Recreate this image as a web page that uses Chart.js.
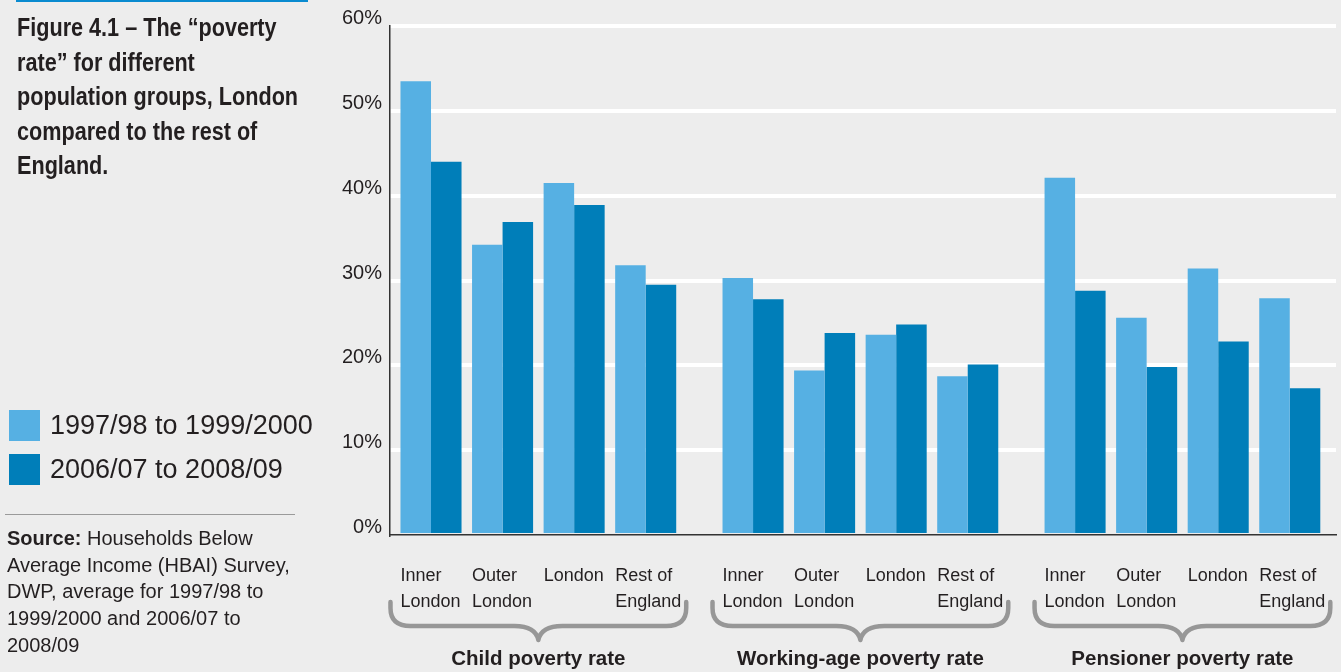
<!DOCTYPE html>
<html>
<head>
<meta charset="utf-8">
<script src="https://cdn.jsdelivr.net/npm/chart.js@4.4.1/dist/chart.umd.min.js"></script>
<style>
  html, body { margin: 0; padding: 0; background: #ededed; }
  body { width: 1341px; height: 672px; position: relative; overflow: hidden; }
  #wrap { position: absolute; left: 0; top: 0; width: 1341px; height: 672px; }
  #side { position: absolute; left: 0; top: 0; width: 320px; height: 672px; color: #231f20;
          font-family: 'Liberation Sans', Arial, sans-serif; }
  #topline { position: absolute; left: 16px; top: 0; width: 292px; height: 2px; background: #0a8bd0; }
  #title { position: absolute; left: 17px; top: 10px; font-weight: bold; font-size: 25px; line-height: 34.5px;
           white-space: nowrap; transform: scaleX(0.865); transform-origin: 0 0; }
  .key { position: absolute; left: 9px; height: 31px; line-height: 31px; font-size: 27px; white-space: nowrap; }
  .key span { display: inline-block; width: 31px; height: 31px; vertical-align: top; margin-right: 10px; }
  #rule { position: absolute; left: 5px; top: 514px; width: 290px; height: 0; border-top: 1.5px solid #9a9a9a; }
  #source { position: absolute; left: 7px; top: 525px; font-size: 20px; line-height: 26.7px; white-space: nowrap; }
</style>
</head>
<body>
<div id="wrap"><canvas id="chart"></canvas></div>
<div id="side">
  <div id="topline"></div>
  <div id="title">Figure 4.1 – The “poverty<br>rate” for different<br>population groups, London<br>compared to the rest of<br>England.</div>
  <div id="keys"></div>
  <div id="rule"></div>
  <div id="source"><b>Source:</b> Households Below<br>Average Income (HBAI) Survey,<br>DWP, average for 1997/98 to<br>1999/2000 and 2006/07 to<br>2008/09</div>
</div>
<script>
// poverty rate (%) by area, three population groups
const groups = ['Child poverty rate', 'Working-age poverty rate', 'Pensioner poverty rate'];
const areas = [['Inner', 'London'], ['Outer', 'London'], ['London'], ['Rest of', 'England']];
const periods = ['1997/98 to 1999/2000', '2006/07 to 2008/09'];
const colours = ['#56b0e3', '#007eb9'];
const early = [53.5, 34.2, 41.5, 31.8, 30.3, 19.4, 23.6, 18.7, 42.1, 25.6, 31.4, 27.9];
const late = [44.0, 36.9, 38.9, 29.5, 27.8, 23.8, 24.8, 20.1, 28.8, 19.8, 22.8, 17.3];
const yTicks = [0, 10, 20, 30, 40, 50, 60];

// x slot for every bar pair, half a slot gap between groups
const slots = [];
groups.forEach((g, gi) => {
    areas.forEach((a, ai) => slots.push(gi * 4.5 + ai));
});

// legend on the left
const keys = document.getElementById('keys');
periods.forEach((p, i) => {
    const d = document.createElement('div');
    d.className = 'key';
    d.style.top = (410 + i * 44) + 'px';
    d.innerHTML = '<span style="background:' + colours[i] + '"></span>' + p;
    keys.appendChild(d);
});

const fontFamily = "'Liberation Sans', Arial, sans-serif";

// curly brackets and group names under the area labels
const braces = {
    id: 'braces',
    afterDraw(chart) {
        const ctx = chart.ctx;
        const m0 = chart.getDatasetMeta(0).data;
        const m1 = chart.getDatasetMeta(1).data;
        groups.forEach((g, gi) => {
            const a = m0[gi * 4], b = m1[gi * 4 + 3];
            const x0 = a.x - a.width / 2 - 10;
            const x1 = b.x + b.width / 2 + 10;
            const xc = (x0 + x1) / 2;
            const y0 = 602, yh = 626, yt = 640;
            ctx.save();
            ctx.strokeStyle = '#979797';
            ctx.lineWidth = 4.5;
            ctx.lineCap = 'round';
            ctx.lineJoin = 'round';
            ctx.beginPath();
            ctx.moveTo(x0, y0);
            ctx.lineTo(x0, y0 + 6);
            ctx.quadraticCurveTo(x0, yh, x0 + 20, yh);
            ctx.lineTo(xc - 24, yh);
            ctx.quadraticCurveTo(xc - 3, yh, xc, yt);
            ctx.quadraticCurveTo(xc + 3, yh, xc + 24, yh);
            ctx.lineTo(x1 - 20, yh);
            ctx.quadraticCurveTo(x1, yh, x1, y0 + 6);
            ctx.lineTo(x1, y0);
            ctx.stroke();
            ctx.fillStyle = '#231f20';
            ctx.font = 'bold 20.5px ' + fontFamily;
            ctx.textAlign = 'center';
            ctx.textBaseline = 'middle';
            ctx.fillText(g, xc, 659);
            ctx.restore();
        });
    }
};

new Chart(document.getElementById('chart'), {
    type: 'bar',
    data: {
        datasets: [early, late].map((vals, i) => ({
            label: periods[i],
            data: vals.map((v, k) => ({ x: slots[k], y: v })),
            backgroundColor: colours[i],
            borderWidth: 0,
            categoryPercentage: 0.853,
            barPercentage: 1
        }))
    },
    options: {
        responsive: true,
        maintainAspectRatio: false,
        animation: false,
        layout: { autoPadding: false, padding: { left: 0, right: 5, top: 26, bottom: 0 } },
        plugins: { legend: { display: false }, tooltip: { enabled: false } },
        scales: {
            x: {
                type: 'linear',
                offset: false,
                min: -0.573,
                max: 12.646,
                afterBuildTicks: s => { s.ticks = slots.map(v => ({ value: v })); },
                afterFit: s => { s.height = 137; s.paddingLeft = 0; s.paddingRight = 0; },
                grid: { display: false, drawTicks: false, offset: false },
                border: { display: true, color: '#333', width: 1.5 },
                ticks: {
                    autoSkip: false,
                    maxRotation: 0,
                    align: 'start',
                    labelOffset: -30.5,
                    padding: 28,
                    color: '#231f20',
                    font: { family: fontFamily, size: 18, lineHeight: 1.44 },
                    callback: (v, i) => areas[i % areas.length]
                }
            },
            y: {
                min: 0,
                max: 60,
                afterBuildTicks: s => { s.ticks = yTicks.map(v => ({ value: v })); },
                afterFit: s => { s.width = 390; s.paddingTop = 0; s.paddingBottom = 0; },
                grid: {
                    color: c => (c.tick && c.tick.value === 0) ? 'rgba(0,0,0,0)' : '#ffffff',
                    lineWidth: 4,
                    drawTicks: false
                },
                border: { display: true, color: '#333', width: 1.5 },
                ticks: {
                    padding: 8,
                    labelOffset: -7.5,
                    color: '#231f20',
                    font: { family: fontFamily, size: 20 },
                    callback: v => v + '%'
                }
            }
        }
    },
    plugins: [braces]
});
</script>
</body>
</html>
